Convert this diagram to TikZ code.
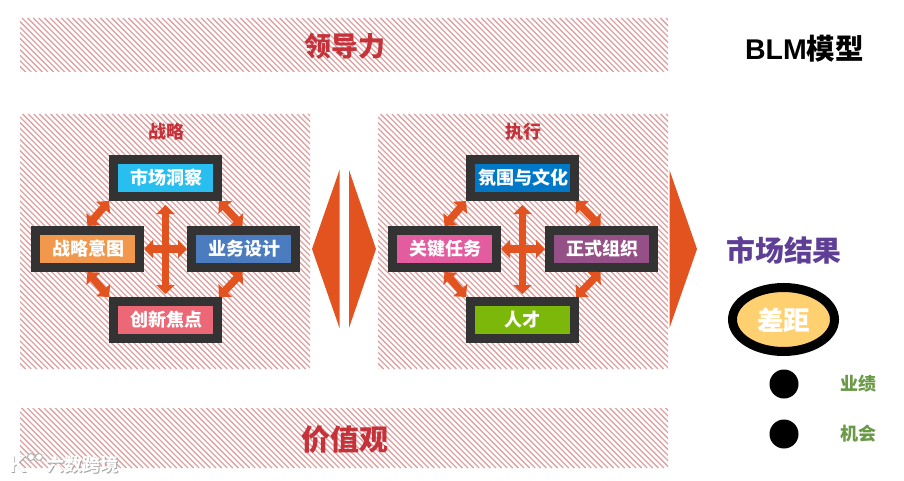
\documentclass[tikz,border=0pt]{standalone}
\usepackage{fontspec}
\setmainfont{Liberation Sans}
\newfontfamily\cjk{Noto Sans CJK SC}
\usetikzlibrary{arrows.meta}
\definecolor{hatchc}{HTML}{DDA3A3}
\definecolor{darkb}{HTML}{333333}
\definecolor{oran}{HTML}{E2531F}
\definecolor{redt}{HTML}{C6323A}
\tikzset{
  hbox/.style={draw=darkb,line width=9pt,minimum width=104pt,minimum height=37pt,inner sep=0pt,text=white,font=\cjk\bfseries\fontsize{18}{20}\selectfont},
  biarrow/.style={draw=oran,line width=7.5pt,{Triangle[width=18pt,length=9pt]}-{Triangle[width=18pt,length=9pt]}},
  wedge/.style={fill=oran,draw=none},
  heading/.style={inner sep=0pt,font=\cjk\bfseries\fontsize{#1}{#1}\selectfont}
}
\newcommand{\hatcharea}[4]{%
  \begin{scope}
    \clip (#1,#2) rectangle (#3,#4);
    \foreach \k in {0,5.6,...,1000}{
      \draw[hatchc,line width=1.3pt] ({#1-(#4-#2)+\k},#2) -- ({#1+\k},#4);
    }
  \end{scope}}
\begin{document}
\begin{tikzpicture}[x=1pt,y=-1pt]
\useasboundingbox (0,0) rectangle (904,481);
\fill[white] (0,0) rectangle (904,481);
\hatcharea{20}{18}{668}{72}
\hatcharea{20}{114}{310}{369}
\hatcharea{378}{114}{668}{369}
\hatcharea{20}{408}{668}{468}
\node[heading=27,text=redt] (lead) at (344.5,46) {领导力};
\node[heading=29,text=redt] (values) at (344.5,440) {价值观};
\node[inner sep=0pt,text=black,font=\bfseries\fontsize{28.5}{29}\selectfont] (blm) at (804.5,49) {BLM{\cjk\bfseries 模型}};
\node[heading=18,text=redt] (strat) at (166.5,132) {战略};
\node[heading=18,text=redt] (exec) at (523.5,132) {执行};
% strategy
\node[hbox,fill={rgb,255:red,41;green,190;blue,240}] (market) at (165.5,178) {\hspace{2pt}市场洞察};
\node[hbox,fill={rgb,255:red,241;green,152;blue,76}] (intent) at (87.5,249) {\hspace{2pt}战略意图};
\node[hbox,fill={rgb,255:red,76;green,124;blue,192}] (design) at (243.5,249) {\hspace{2pt}业务设计};
\node[hbox,fill={rgb,255:red,236;green,104;blue,118}] (focus) at (165.5,320) {\hspace{2pt}创新焦点};
\draw[biarrow] (market.south west) -- (intent.north);
\draw[biarrow] ([xshift=-3pt]market.south east) -- ([xshift=-1pt]design.north);
\draw[biarrow] (intent.south) -- (focus.north west);
\draw[biarrow] ([xshift=-1pt]design.south) -- ([xshift=-3pt]focus.north east);
\draw[biarrow,shorten >=3pt,shorten <=4pt] (market.south) -- (focus.north);
\draw[biarrow] (intent.east) -- (design.west);
% execution
\node[hbox,fill={rgb,255:red,0;green,120;blue,200}] (climate) at (522.5,178) {\hspace{2pt}氛围与文化};
\node[hbox,fill={rgb,255:red,228;green,92;blue,160}] (tasks) at (444.5,249) {\hspace{2pt}关键任务};
\node[hbox,fill={rgb,255:red,150;green,80;blue,136}] (org) at (601.5,249) {\hspace{2pt}正式组织};
\node[hbox,fill={rgb,255:red,124;green,184;blue,10}] (talent) at (522.5,320) {人才};
\draw[biarrow] (climate.south west) -- (tasks.north);
\draw[biarrow] ([xshift=-3pt]climate.south east) -- ([xshift=-1pt]org.north);
\draw[biarrow] (tasks.south) -- (talent.north west);
\draw[biarrow] ([xshift=-1pt]org.south) -- ([xshift=-3pt]talent.north east);
\draw[biarrow,shorten >=3pt,shorten <=4pt] (climate.south) -- (talent.north);
\draw[biarrow] (tasks.east) -- (org.west);
% wedges
\fill[wedge] (339.5,170) -- (312,249) -- (339.5,328) -- cycle;
\fill[wedge] (349,170) -- (376,249) -- (349,328) -- cycle;
\fill[wedge] (669.5,170) -- (697,249) -- (669.5,328) -- cycle;
% results
\node[heading=28.8,text={rgb,255:red,95;green,63;blue,150}] (result) at (784,250) {市场结果};
\draw[black,line width=9pt,fill={rgb,255:red,255;green,208;blue,112}] (783.5,319.5) ellipse (51pt and 32pt);
\node[heading=26.5,text=white] (gap) at (783.5,320) {差距};
\fill[black] (784,384) circle (14.5pt);
\fill[black] (784,434) circle (14.5pt);
\node[heading=18,text={rgb,255:red,106;green,154;blue,69}] (perf) at (858,384) {业绩};
\node[heading=18,text={rgb,255:red,106;green,154;blue,69}] (opp) at (858,434) {机会};
% watermark
\node[heading=18,text=black!35] (markshadow) at (83.5,465.7) {六数跨境};
\node[heading=18,text=white] (mark) at (82.8,465) {六数跨境};
\node[inner sep=0pt,text=black!35,font=\bfseries\fontsize{24}{24}\selectfont] (logoshadow) at (18.8,465) {K};
\node[inner sep=0pt,text=white,font=\bfseries\fontsize{24}{24}\selectfont] (logo) at (18,464.5) {K};
\draw[black!30,line width=1pt,fill=white] (31,457) circle (3.5pt) (39,457) circle (3.5pt);
\end{tikzpicture}
\end{document}
